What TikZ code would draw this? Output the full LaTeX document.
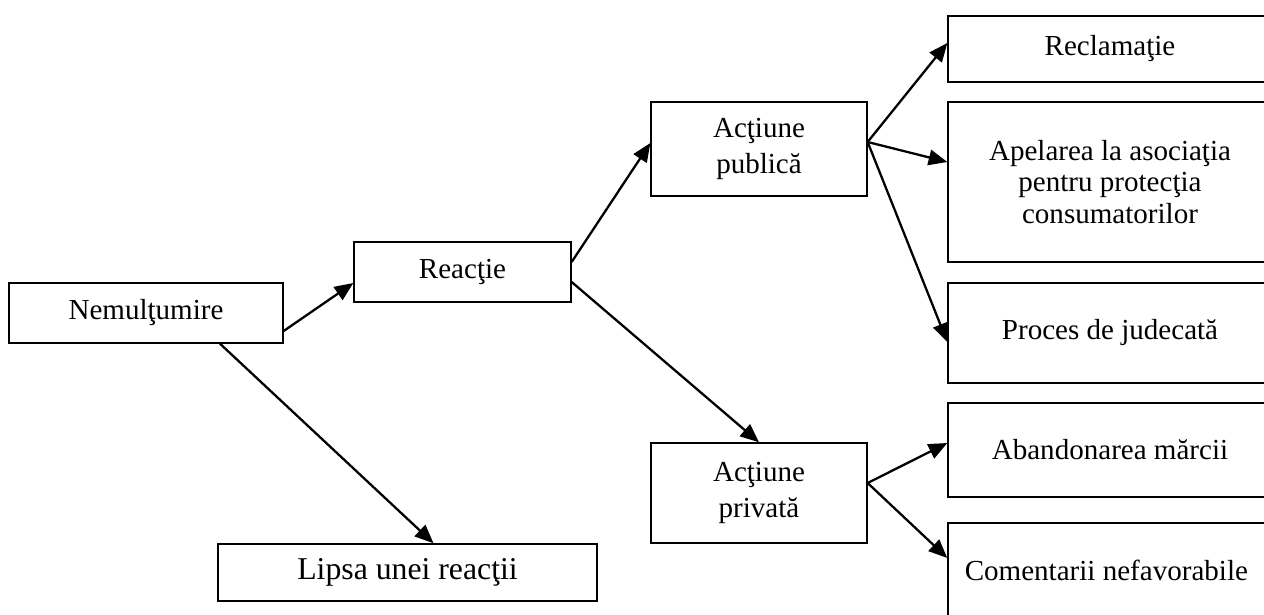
\documentclass[tikz,border=0pt]{standalone}
\usepackage{fontspec}
\setmainfont{Liberation Serif}
\usepackage{tikz}
\usetikzlibrary{arrows.meta}
\usetikzlibrary{calc}
\usetikzlibrary{positioning}
\tikzset{basic box/.style={draw,
                           rectangle,
                           line width=0.7pt,
                           inner sep=0pt,
                           align=center,
                           font=\fontsize{14}{15.2}\selectfont}}
\tikzset{edge/.style={draw,
                      line width=1.1pt,
                      -{Triangle[length=9pt,width=7.5pt]}}}

\begin{document}
\begin{tikzpicture}
      [
      x=0.01693cm,y=-0.01693cm,
      my box/.style={basic box,
      minimum width=156.1pt},
      two line/.style={font=\fontsize{14}{17}\selectfont},
      ]

      \useasboundingbox (0,0) rectangle (1264,615);

      % left and middle boxes
      \node [basic box,minimum width=132pt,minimum height=28.9pt] (nem) at (146,313) {Nemulţumire};
      \node [basic box,minimum width=104.5pt,minimum height=28.9pt] (rea) at (462.5,272) {Reacţie};
      \node [basic box,two line,minimum width=104pt,minimum height=45.3pt] (apub) at (759,149) {Acţiune\\publică};
      \node [basic box,two line,minimum width=104pt,minimum height=48.2pt] (apriv) at (759,493) {Acţiune\\privată};
      \node [basic box,font=\fontsize{15.3}{17}\selectfont,minimum width=182.6pt,minimum height=27.5pt] (lipsa) at (407.5,572.5) {Lipsa unei reacţii};

      % right column
      \foreach \n/\y/\h/\t in
      {
      recl/49/31.8/{Reclamaţie},
      apel/182/77.1/{Apelarea la asociaţia\\pentru protecţia\\consumatorilor},
      proc/333/48.2/{Proces de judecată},
      aban/450/45.3/{Abandonarea mărcii},
      com/570/45.3/{Comentarii nefavorabile}
      }
      {
      \node [my box,minimum height=\h pt] (\n) at (1110,\y) {\t};
      }

      % edges
      \path [edge] ($(nem.east)+(0,18)$) -- ($(rea.west)+(0,11)$);
      \path [edge] ($(nem.south)+(74,0)$) -- ($(lipsa.north)+(26,0)$);

      \path [edge] ($(rea.east)+(0,-10)$) -- ($(apub.west)+(0,-6)$);
      \path [edge] ($(rea.east)+(0,10)$) -- (apriv.north);

      \path [edge] ($(apub.east)+(0,-7)$) -- ($(recl.west)+(0,-6)$);
      \path [edge] ($(apub.east)+(0,-7)$) -- ($(apel.west)+(0,-20)$);
      \path [edge] ($(apub.east)+(0,-7)$) -- ($(proc.west)+(0,9)$);

      \path [edge] ($(apriv.east)+(0,-10)$) -- ($(aban.west)+(0,-7)$);
      \path [edge] ($(apriv.east)+(0,-10)$) -- ($(com.west)+(0,-12)$);

    \end{tikzpicture}
\end{document}
